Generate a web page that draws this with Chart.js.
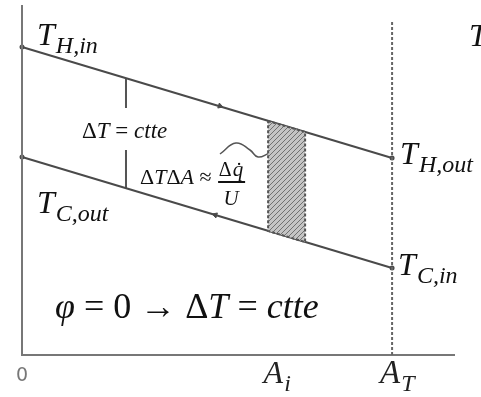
<!DOCTYPE html>
<html>
<head>
<meta charset="utf-8">
<script src="https://cdn.jsdelivr.net/npm/chart.js@4.4.1/dist/chart.umd.min.js"></script>
<style>
  html, body { margin: 0; padding: 0; background: #fff; }
  canvas { display: block; }
</style>
</head>
<body>
<canvas id="hx" width="481" height="397"></canvas>
<script>
// exchanger area along x, temperatures along y (arbitrary units)
const areaEnds = [0, 10]            // inlet side, A_T
const hotTemps = [30.8, 19.7]       // T_H,in -> T_H,out
const coldTemps = [19.8, 8.7]       // T_C,out <- T_C,in
const areaMax = 11.7
const tempMax = 35

// element dA around A_i
const stripArea = [6.65, 7.65]
const stripHot = [23.4, 22.3]
const stripCold = [12.4, 11.3]

// delta-T marker
const dtArea = 2.81
const dtUpper = [27.6, 24.7]
const dtLower = [20.5, 16.7]

// dashed line at A_T
const totalArea = 10
const totalLine = [0, 33.5]

// squiggle pointing at the strip
const squiggleA = [5.35, 5.78, 6.16, 6.38, 6.70, 7.03]
const squiggleT = [20.1, 21.2, 20.5, 19.8, 20.2, 20.4]

// flow direction marks
const hotFlow = { x: 5.35, y: 24.9 }
const coldFlow = { x: 5.22, y: 14.0 }

const ink = '#4a4a4a'
const pts = (xs, ys) => xs.map((x, i) => ({ x, y: ys[i] }))
const font = (size, it) => (it ? 'italic ' : '') + size + 'px "Liberation Serif"'

function hatch() {
    const c = document.createElement('canvas')
    c.width = 5; c.height = 5
    const g = c.getContext('2d')
    g.fillStyle = '#c4c4c4'
    g.fillRect(0, 0, 5, 5)
    g.strokeStyle = '#707070'
    g.lineWidth = 1
    g.beginPath()
    g.moveTo(0, 5); g.lineTo(5, 0)
    g.moveTo(-2.5, 2.5); g.lineTo(2.5, -2.5)
    g.moveTo(2.5, 7.5); g.lineTo(7.5, 2.5)
    g.stroke()
    return g.createPattern(c, 'repeat')
}

// text runs: [string, italic?]
function runs(ctx, parts, x, y, size) {
    let cx = x
    for (const [s, it] of parts) {
        ctx.font = font(size, it)
        ctx.fillText(s, cx, y)
        cx += ctx.measureText(s).width
    }
    return cx
}

function sub(ctx, base, s, x, y, size) {
    const cx = runs(ctx, [[base, true]], x, y, size)
    if (s) runs(ctx, [[s, true]], cx + 1, y + size * 0.24, Math.round(size * 0.74))
}

const labels = {
    id: 'labels',
    afterDatasetsDraw(chart) {
        const ctx = chart.ctx
        const X = v => chart.scales.x.getPixelForValue(v)
        const Y = v => chart.scales.y.getPixelForValue(v)
        ctx.save()
        ctx.fillStyle = '#111'
        ctx.textBaseline = 'alphabetic'
        ctx.textAlign = 'left'

        sub(ctx, 'T', 'H,in', X(0) + 15, Y(hotTemps[0]) - 2, 32)
        sub(ctx, 'T', 'C,out', X(0) + 15, Y(coldTemps[0]) + 56, 32)
        sub(ctx, 'T', 'H,out', X(areaEnds[1]) + 8, Y(hotTemps[1]) + 6, 32)
        sub(ctx, 'T', 'C,in', X(areaEnds[1]) + 6, Y(coldTemps[1]) + 7, 32)
        sub(ctx, 'T', '', 469, 46, 32)

        runs(ctx, [['\u0394', false], ['T', true], [' = ', false], ['ctte', true]],
             X(dtArea) - 44, Y(dtUpper[1]) + 30, 23)
        runs(ctx, [['\u0394', false], ['T', true], ['\u0394', false], ['A', true], [' \u2248', false]],
             X(dtArea) + 14, Y(dtLower[1]) - 4, 22)
        ctx.textAlign = 'center'
        const fx = X(stripArea[0]) - 37
        ctx.font = font(20, false)
        ctx.fillText('\u0394', fx - 6, Y(dtLower[1]) - 12)
        ctx.font = font(21, true)
        ctx.fillText('q\u0307', fx + 7, Y(dtLower[1]) - 12)
        ctx.fillText('U', fx, Y(dtLower[1]) + 17)
        ctx.fillRect(fx - 13, Y(dtLower[1]) - 7, 27, 2)

        ctx.textAlign = 'left'
        runs(ctx, [['\u03c6', true], [' = 0 \u2192 \u0394', false], ['T', true], [' = ', false], ['ctte', true]],
             55, 318, 36)

        ctx.fillStyle = '#222'
        sub(ctx, 'A', 'i', X((stripArea[0] + stripArea[1]) / 2) - 23, Y(0) + 28, 32)
        sub(ctx, 'A', 'T', X(totalArea) - 12, Y(0) + 28, 33)
        ctx.fillStyle = '#777'
        ctx.font = '19px "DejaVu Sans"'
        ctx.textAlign = 'center'
        ctx.fillText('0', X(0), Y(0) + 26)
        ctx.restore()
    }
}

new Chart(document.getElementById('hx'), {
    type: 'scatter',
    data: {
        datasets: [
            {   // hatched strip, drawn first
                data: pts([stripArea[0], stripArea[1], stripArea[1], stripArea[0], stripArea[0]],
                          [stripHot[0], stripHot[1], stripCold[1], stripCold[0], stripHot[0]]),
                showLine: true, fill: 'shape', backgroundColor: hatch(),
                borderColor: '#555', borderWidth: 2, borderDash: [3, 2], pointRadius: 0
            },
            {   // A_T
                data: pts([totalArea, totalArea], totalLine),
                showLine: true, borderColor: '#666', borderWidth: 2, borderDash: [3, 2], pointRadius: 0
            },
            {   // axes
                data: pts([areaMax, 0, 0], [0, 0, tempMax]),
                showLine: true, borderColor: '#777', borderWidth: 2, pointRadius: 0
            },
            {
                label: 'hot',
                data: pts(areaEnds, hotTemps),
                showLine: true, borderColor: ink, borderWidth: 2,
                pointRadius: 2.5, pointBackgroundColor: ink, pointBorderWidth: 0
            },
            {
                label: 'cold',
                data: pts(areaEnds, coldTemps),
                showLine: true, borderColor: ink, borderWidth: 2,
                pointRadius: 2.5, pointBackgroundColor: ink, pointBorderWidth: 0
            },
            {
                data: pts([dtArea, dtArea], dtUpper),
                showLine: true, borderColor: '#555', borderWidth: 2, pointRadius: 0
            },
            {
                data: pts([dtArea, dtArea], dtLower),
                showLine: true, borderColor: '#555', borderWidth: 2, pointRadius: 0
            },
            {
                data: pts(squiggleA, squiggleT),
                showLine: true, borderColor: '#555', borderWidth: 1.5, tension: 0.45, pointRadius: 0
            },
            {
                data: [hotFlow, coldFlow],
                pointStyle: 'triangle', pointRadius: 3,
                rotation: [107, 287],
                backgroundColor: ink, borderColor: ink
            }
        ]
    },
    options: {
        responsive: false,
        animation: false,
        events: [],
        layout: { padding: { left: 22, right: 26, top: 5, bottom: 42 } },
        datasets: { scatter: { clip: false } },
        plugins: { legend: { display: false }, tooltip: { enabled: false } },
        scales: {
            x: { type: 'linear', min: 0, max: areaMax, display: false },
            y: { type: 'linear', min: 0, max: tempMax, display: false }
        }
    },
    plugins: [labels]
})
</script>
</body>
</html>
